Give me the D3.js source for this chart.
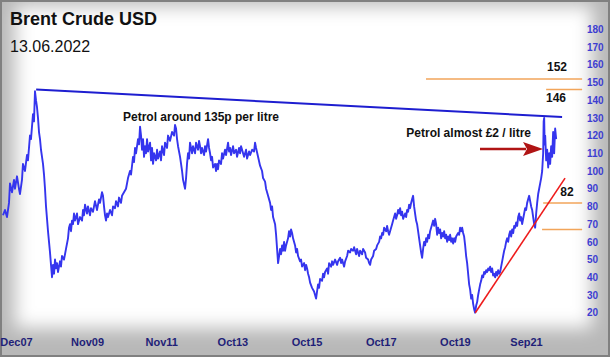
<!DOCTYPE html>
<html>
<head>
<meta charset="utf-8">
<script src="https://cdn.jsdelivr.net/npm/d3@7"></script>
<style>
html,body{margin:0;padding:0;background:#fff;}
svg{display:block;}
</style>
</head>
<body>
<script>
// ---- data (dates as decimal years, prices in USD) ----
const priceDates = [
 2007.566,2007.620,2007.674,2007.728,2007.755,2007.809,2007.863,2007.890,2007.944,2007.997,2008.024,2008.078,2008.105,2008.159,2008.213,2008.240,2008.294,2008.321,2008.375,2008.402,2008.429,
 2008.456,2008.483,2008.510,2008.537,2008.564,2008.591,2008.645,2008.672,2008.699,2008.726,2008.780,2008.807,2008.834,2008.861,2008.888,
 2008.915,2008.942,2008.969,2008.996,2009.022,2009.049,2009.103,2009.130,2009.157,2009.211,2009.265,2009.319,2009.346,2009.373,
 2009.400,2009.427,2009.454,2009.481,2009.508,2009.562,2009.589,2009.643,2009.697,2009.724,2009.751,2009.778,2009.831,2009.858,2009.912,2009.939,2009.993,2010.047,2010.101,2010.155,2010.182,2010.236,2010.263,2010.290,2010.317,2010.344,2010.371,2010.398,2010.452,2010.506,2010.533,2010.587,2010.614,2010.667,2010.694,2010.748,2010.775,2010.829,2010.883,2010.937,2010.991,2011.018,2011.072,2011.099,2011.126,2011.153,2011.207,2011.234,2011.261,
 2011.288,2011.315,2011.342,2011.369,2011.396,2011.423,2011.450,2011.477,2011.531,2011.558,2011.585,2011.612,2011.639,2011.693,2011.720,2011.747,2011.800,2011.827,2011.854,2011.908,2011.935,2011.989,2012.016,2012.070,2012.124,2012.178,2012.205,2012.232,2012.259,2012.286,2012.340,2012.367,2012.394,2012.421,2012.475,2012.502,2012.528,2012.555,2012.582,2012.609,2012.663,2012.690,2012.744,2012.771,2012.825,2012.852,2012.879,
 2012.906,2012.933,2012.987,2013.014,2013.041,2013.095,2013.122,2013.149,2013.176,2013.203,2013.230,2013.283,2013.310,2013.337,2013.364,2013.391,2013.445,2013.472,2013.499,2013.553,2013.580,2013.634,2013.661,2013.688,2013.715,2013.769,2013.796,2013.850,2013.877,2013.931,2013.958,2013.985,2014.039,2014.066,2014.120,2014.147,2014.201,2014.228,2014.282,2014.335,2014.362,2014.389,
 2014.443,2014.497,2014.551,2014.578,2014.632,2014.659,2014.713,2014.767,2014.794,2014.821,2014.848,2014.902,2014.929,2014.956,2014.983,
 2015.010,2015.037,2015.064,2015.091,2015.118,2015.145,2015.171,2015.198,2015.252,2015.279,2015.306,2015.333,2015.360,2015.387,2015.441,2015.468,2015.495,2015.522,2015.576,2015.603,2015.630,2015.684,2015.711,2015.738,2015.765,2015.792,2015.819,2015.846,2015.899,2015.953,2015.980,2016.007,
 2016.034,2016.061,2016.088,2016.115,2016.169,2016.196,2016.223,2016.250,2016.304,2016.331,2016.358,2016.412,2016.439,2016.466,2016.520,2016.574,2016.601,2016.655,2016.682,2016.709,2016.763,2016.790,2016.844,2016.871,2016.925,2016.952,2017.006,2017.033,2017.086,2017.113,2017.167,2017.194,2017.248,2017.275,2017.329,2017.356,2017.410,2017.437,2017.464,2017.491,2017.545,2017.572,2017.626,2017.653,2017.707,2017.734,
 2017.761,2017.788,2017.815,2017.842,2017.896,2017.922,2017.949,2017.976,2018.003,2018.057,2018.084,2018.111,2018.138,2018.165,2018.192,2018.219,2018.246,2018.273,2018.300,2018.327,2018.354,2018.408,2018.435,2018.462,2018.489,2018.516,2018.543,2018.570,2018.596,2018.623,2018.650,2018.677,2018.704,2018.731,2018.758,2018.785,2018.812,2018.839,2018.866,
 2018.893,2018.920,2018.947,2018.974,2019.001,2019.028,2019.055,2019.082,2019.109,2019.136,2019.163,2019.190,2019.217,2019.244,2019.271,2019.298,2019.325,2019.352,2019.379,2019.406,2019.433,2019.460,2019.487,2019.514,2019.541,2019.568,2019.595,2019.622,2019.649,2019.676,2019.703,2019.730,2019.757,2019.784,2019.837,2019.864,2019.891,2019.918,2019.945,2019.972,2019.999,
 2020.026,2020.053,2020.080,2020.107,2020.134,2020.161,2020.188,2020.215,2020.242,2020.269,2020.296,
 2020.323,2020.350,2020.377,2020.404,2020.431,2020.458,2020.485,2020.512,2020.539,2020.566,2020.593,2020.620,2020.647,2020.674,2020.700,2020.727,2020.754,2020.781,2020.808,2020.835,2020.862,2020.889,2020.916,2020.943,2020.970,2020.997,2021.024,2021.051,2021.078,2021.105,2021.132,2021.159,2021.186,2021.213,2021.240,2021.267,2021.294,2021.321,2021.348,2021.375,2021.402,2021.429,2021.456,2021.483,2021.509,2021.536,2021.563,2021.590,2021.617,2021.644,2021.671,2021.698,2021.725,2021.752,2021.779,2021.806,2021.833,2021.860,2021.887,2021.914,2021.941,2021.968,2021.995,2022.022,2022.049,2022.076,
 2022.103,2022.130,2022.143,2022.157,2022.170,2022.184,2022.211,2022.238,2022.265,2022.292,2022.318,2022.345,2022.372,2022.399,2022.426,2022.453,2022.480
];
const priceValues = [
 75,78,74,82,93,88,95,90,97,90,87,95,104,100,109,106,120,118,132,128,145,
 140,136,130,122,118,112,104,98,90,80,66,60,54,47,40,
 47,42,50,45,48,43,49,46,52,50,56,62,68,70,
 66,72,70,76,72,76,70,74,72,78,75,81,76,80,75,79,77,83,78,84,82,88,86,80,75,72,76,74,78,75,80,79,83,80,85,82,86,88,90,96,100,98,108,105,113,110,118,115,125,
 120,112,118,108,114,110,118,111,116,106,113,104,110,106,112,107,111,106,114,109,116,113,120,117,122,120,126,124,118,114,108,104,100,95,90,96,104,110,107,116,110,114,110,116,112,117,114,
 110,113,109,114,111,118,113,110,106,108,102,104,100,104,101,106,104,110,107,112,109,116,111,113,109,114,110,112,108,113,110,114,110,108,112,107,111,109,112,111,116,113,
 108,103,100,96,94,90,86,82,78,80,74,70,64,56,48,
 52,56,53,58,55,60,55,58,62,66,63,67,65,62,58,54,56,52,49,50,46,48,44,47,45,42,40,37,34,32,30,28,
 32,36,34,39,38,42,40,43,45,42,48,46,49,47,50,47,49,51,48,50,46,49,52,55,54,56,55,57,53,56,52,55,53,56,54,51,50,48,47,50,52,55,56,58,60,63,
 62,65,64,68,66,69,66,64,66,70,72,74,76,73,75,78,76,79,75,77,73,76,74,78,77,81,79,82,84,86,80,76,72,70,66,62,58,54,51,
 56,60,58,62,60,64,62,66,68,70,72,69,73,70,64,68,65,67,62,65,63,66,62,64,60,63,61,64,60,62,59,62,60,63,65,64,68,66,68,65,63,
 58,52,48,42,36,33,28,30,25,22,20,
 24,26,30,33,36,38,41,40,43,42,44,43,45,44,46,43,45,41,42,40,43,41,44,42,43,46,49,52,55,57,60,62,60,64,66,63,67,65,69,68,71,69,74,76,72,74,70,73,76,79,78,82,84,86,83,80,78,74,70,68,76,82,87,90,93,96,
 100,110,128,130,115,120,106,112,102,110,104,114,108,122,110,124,118
];

const resistanceDates = [2008.46, 2022.64];
const resistanceValues = [146, 130.5];
const supportDates = [2020.30, 2022.72];
const supportValues = [20, 96];

const levelValues = [152, 146, 82, 67];
const levelStarts = [2018.97, 2022.21, 2022.13, 2022.10];
const levelEnd = 2023.18;
const levelLabels = ["152", "146", "82"];

const yTicks = [20,30,40,50,60,70,80,90,100,110,120,130,140,150,160,170,180];
const xTickDates = [2007.917, 2009.833, 2011.833, 2013.75, 2015.75, 2017.75, 2019.75, 2021.667];
const xTickLabels = ["Dec07","Nov09","Nov11","Oct13","Oct15","Oct17","Oct19","Sep21"];

const title = "Brent Crude USD";
const subtitle = "13.06.2022";
const note1 = "Petrol around 135p per litre";
const note2 = "Petrol almost £2 / litre";

// ---- drawing ----
const W = 610, H = 357;
const svg = d3.select("body").append("svg").attr("width", W).attr("height", H);

const defs = svg.append("defs");
defs.append("filter").attr("id","soft").attr("x","-20%").attr("y","-20%").attr("width","140%").attr("height","140%")
  .append("feGaussianBlur").attr("stdDeviation", 9);

svg.append("rect").attr("width", W).attr("height", H).attr("fill", "#b8b8b8");
svg.append("rect").attr("x", 15).attr("y", 6).attr("width", 577).attr("height", 322)
  .attr("fill", "#fff").attr("filter", "url(#soft)");
svg.append("rect").attr("x", 1).attr("y", 1).attr("width", W-2).attr("height", H-2)
  .attr("fill", "none").attr("stroke", "#808080").attr("stroke-width", 2);

const x = d3.scaleLinear().domain([2007.917, 2021.667]).range([16, 526]);
const y = d3.scaleLinear().domain([20, 180]).range([312.7, 29.3]);

const font = "'Liberation Sans', Arial, sans-serif";

// Y axis (labels only)
const yAxis = d3.axisRight(y).tickValues(yTicks).tickSize(0).tickPadding(0);
const gy = svg.append("g").attr("transform", "translate(587,0)").call(yAxis);
gy.select(".domain").remove();
gy.selectAll("text").attr("font-family", font).attr("font-weight", "bold")
  .attr("font-size", 10).attr("fill", "#3d3dd2").attr("text-anchor", "start");

// X axis (labels only)
const xAxis = d3.axisBottom(x).tickValues(xTickDates).tickSize(0).tickPadding(0)
  .tickFormat((d, i) => xTickLabels[i]);
const gx = svg.append("g").attr("transform", "translate(0,338)").call(xAxis);
gx.select(".domain").remove();
gx.selectAll("text").attr("font-family", font).attr("font-weight", "bold")
  .attr("font-size", 11).attr("fill", "#1f1f78");

// horizontal orange levels
svg.append("g").selectAll("line").data(levelValues).join("line")
  .attr("x1", (d, i) => x(levelStarts[i])).attr("x2", x(levelEnd))
  .attr("y1", d => y(d)).attr("y2", d => y(d))
  .attr("stroke", "#f2a55a").attr("stroke-width", 1.5);

// price line
const pts = priceDates.map((d, i) => [d, priceValues[i]]);
svg.append("path").datum(pts)
  .attr("fill", "none").attr("stroke", "#3535ee").attr("stroke-width", 1.9)
  .attr("stroke-linejoin", "round")
  .attr("d", d3.line().x(d => x(d[0])).y(d => y(d[1])));

// resistance line
svg.append("path").datum(resistanceDates.map((d, i) => [d, resistanceValues[i]]))
  .attr("fill", "none").attr("stroke", "#1e1ed0").attr("stroke-width", 2)
  .attr("d", d3.line().x(d => x(d[0])).y(d => y(d[1])));

// support line
svg.append("path").datum(supportDates.map((d, i) => [d, supportValues[i]]))
  .attr("fill", "none").attr("stroke", "#ee1c1c").attr("stroke-width", 1.6)
  .attr("d", d3.line().x(d => x(d[0])).y(d => y(d[1])));

// level labels
const lblPos = [[557, 71], [556, 102], [567, 196]];
svg.append("g").selectAll("text").data(levelLabels).join("text")
  .attr("x", (d, i) => lblPos[i][0]).attr("y", (d, i) => lblPos[i][1])
  .attr("text-anchor", "middle").attr("font-family", font).attr("font-weight", "bold")
  .attr("font-size", 12).attr("fill", "#111").text(d => d);

// notes
svg.append("text").attr("x", 123).attr("y", 121).attr("font-family", font)
  .attr("font-weight", "bold").attr("font-size", 12).attr("fill", "#111").text(note1);
svg.append("text").attr("x", 531).attr("y", 137).attr("text-anchor", "end").attr("font-family", font)
  .attr("font-weight", "bold").attr("font-size", 12).attr("fill", "#111").text(note2);

// arrow
svg.append("line").attr("x1", 480).attr("x2", 526).attr("y1", 149).attr("y2", 149)
  .attr("stroke", "#b01414").attr("stroke-width", 2.5);
svg.append("path").attr("d", "M523,142 L543,149 L523,156 L527,149 Z").attr("fill", "#b01414");

// title
svg.append("text").attr("x", 10).attr("y", 25).attr("font-family", font)
  .attr("font-weight", "bold").attr("font-size", 18).attr("fill", "#111").text(title);
svg.append("text").attr("x", 10).attr("y", 52).attr("font-family", font)
  .attr("font-size", 16).attr("fill", "#111").text(subtitle);
</script>
</body>
</html>
